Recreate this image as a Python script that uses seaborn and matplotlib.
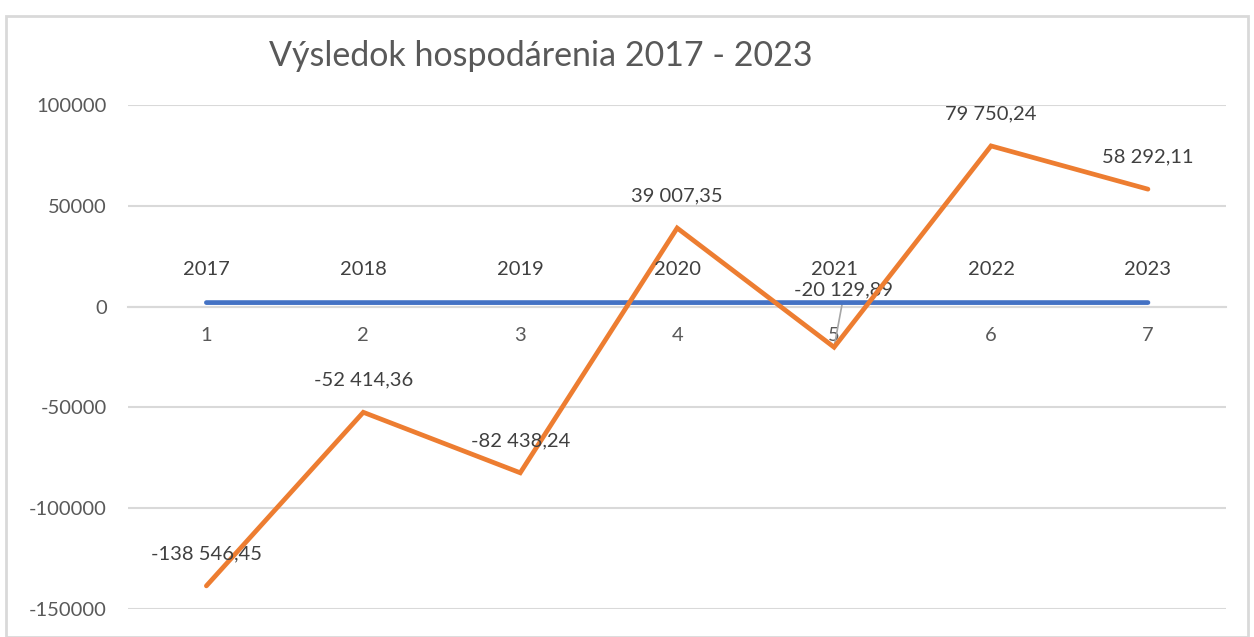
import matplotlib

matplotlib.use("Agg")

import matplotlib.pyplot as plt
import pandas as pd
import seaborn as sns
from matplotlib.patches import Rectangle

# data
categories = [1, 2, 3, 4, 5, 6, 7]
years = [2017, 2018, 2019, 2020, 2021, 2022, 2023]
results = [-138546.45, -52414.36, -82438.24, 39007.35, -20129.89, 79750.24, 58292.11]
y_ticks = [100000, 50000, 0, -50000, -100000, -150000]
title = "Výsledok hospodárenia 2017 - 2023"

BLUE = "#4472C4"
ORANGE = "#ED7D31"
GRID = "#D9D9D9"
TEXT = "#595959"


def fmt_sk(value: float) -> str:
    """Slovak number format: space thousands, comma decimals."""
    return f"{value:,.2f}".replace(",", " ").replace(".", ",")


frame = pd.DataFrame(
    {
        "category": categories * 2,
        "value": years + results,
        "series": ["rok"] * len(years) + ["vysledok"] * len(results),
    }
)

sns.set_style("white")
plt.rcParams["font.family"] = ["Lato", "DejaVu Sans"]

fig = plt.figure(figsize=(12.54, 6.37), dpi=100)
ax = fig.add_axes([0.102, 0.044, 0.876, 0.791])

sns.lineplot(
    data=frame,
    x="category",
    y="value",
    hue="series",
    palette={"rok": BLUE, "vysledok": ORANGE},
    linewidth=3.4,
    legend=False,
    ax=ax,
)
for line in ax.lines:
    line.set_solid_capstyle("round")
    line.set_solid_joinstyle("miter")

ax.set_xlim(0.5, 7.5)
ax.set_ylim(-150000, 100000)
ax.set_yticks(y_ticks)
ax.set_yticklabels([str(v) for v in y_ticks])
ax.yaxis.grid(True, color=GRID, linewidth=1.5)
ax.set_axisbelow(True)
ax.set_xlabel("")
ax.set_ylabel("")

for side in ["top", "right", "left"]:
    ax.spines[side].set_visible(False)
ax.spines["bottom"].set_position(("data", 0))
ax.spines["bottom"].set_color(GRID)
ax.spines["bottom"].set_linewidth(1.5)
ax.spines["bottom"].set_zorder(0.5)

ax.set_xticks(categories)
ax.set_xticklabels([str(c) for c in categories])
ax.set_xticks([c - 0.5 for c in categories] + [7.5], minor=True)
ax.tick_params(axis="x", which="major", length=0, pad=15, labelsize=14.5, labelcolor=TEXT)
ax.tick_params(axis="x", which="minor", length=6, width=1.5, color=GRID, direction="out")
ax.tick_params(axis="y", length=0, pad=15, labelsize=14.5, labelcolor=TEXT)

# year labels above the blue series
for c, y in zip(categories, years):
    ax.annotate(str(y), (c, y), xytext=(0, 33), textcoords="offset pixels",
                ha="center", va="center", fontsize=14.5, color="#404040")

# result labels above the orange series
for c, v in zip(categories, results):
    if c == 5:
        ax.annotate(fmt_sk(v), (c, v), xytext=(9, 57), textcoords="offset pixels",
                    ha="center", va="center", fontsize=14.5, color="#404040",
                    arrowprops=dict(arrowstyle="-", color="#A6A6A6", lw=1.2,
                                    shrinkA=2, shrinkB=0, relpos=(0.5, 0.0)),
                    zorder=1)
    else:
        ax.annotate(fmt_sk(v), (c, v), xytext=(0, 32), textcoords="offset pixels",
                    ha="center", va="center", fontsize=14.5, color="#404040")

fig.text(0.431, 0.912, title, ha="center", va="center", fontsize=24.5,
         color=TEXT)

fig.patches.append(Rectangle((0.005, 0.0), 0.99, 0.975, transform=fig.transFigure,
                             fill=False, edgecolor=GRID, linewidth=2))

fig.savefig("out.png", dpi=100)
